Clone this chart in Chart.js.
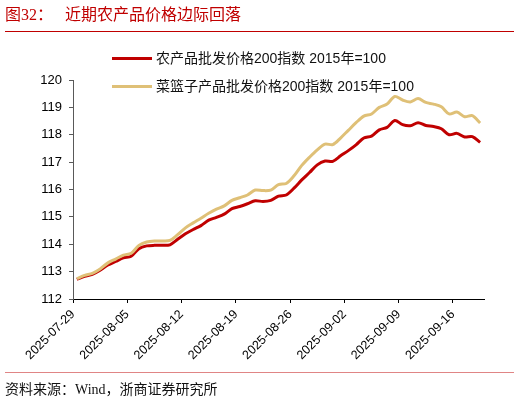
<!DOCTYPE html>
<html>
<head>
<meta charset="utf-8">
<script src="https://cdn.jsdelivr.net/npm/chart.js@4.4.1/dist/chart.umd.min.js"></script>
<style>
  html, body { margin: 0; padding: 0; background: #fff; }
  #wrap { position: relative; width: 520px; height: 403px; overflow: hidden; }
  #chart { position: absolute; left: 0; top: 0; }
  .title { position: absolute; top: 5px; height: 20px; line-height: 20px; font-size: 16px; color: #c00000;
           font-family: "Liberation Serif", "Noto Sans CJK SC", serif; white-space: nowrap; }
  .rule { position: absolute; left: 5px; width: 509px; height: 1px; }
  .legend-row { position: absolute; left: 112px; height: 20px; line-height: 20px; font-size: 14px; color: #111;
                font-family: "Liberation Sans", "Noto Sans CJK SC", sans-serif; white-space: nowrap; }
  .legend-row .swatch { position: absolute; left: 0; top: 8.5px; width: 40px; height: 3px; }
  .legend-row .label { position: absolute; left: 44px; top: 0; }
  .source { position: absolute; left: 5px; top: 380px; height: 20px; line-height: 20px; font-size: 14px; color: #111;
            font-family: "Liberation Serif", "Noto Sans CJK SC", serif; white-space: nowrap; }
</style>
</head>
<body>
<div id="wrap">
  <canvas id="chart" width="520" height="403"></canvas>
  <div class="title" style="left:5px">图32：</div>
  <div class="title" style="left:65px">近期农产品价格边际回落</div>
  <div class="rule" style="top:31px;background:#c00000"></div>
  <div class="legend-row" style="top:48px"><span class="swatch" style="background:#c00000"></span><span class="label">农产品批发价格200指数 2015年=100</span></div>
  <div class="legend-row" style="top:76px"><span class="swatch" style="background:#dfc077"></span><span class="label">菜篮子产品批发价格200指数 2015年=100</span></div>
  <div class="rule" style="top:372px;background:#e08585"></div>
  <div class="source">资料来源：Wind，浙商证券研究所</div>
</div>
<script>
// daily dates shown on the chart
const dates = [
    '2025-07-29', '2025-07-30', '2025-07-31', '2025-08-01', '2025-08-02', '2025-08-03', '2025-08-04',
    '2025-08-05', '2025-08-06', '2025-08-07', '2025-08-08', '2025-08-09', '2025-08-10', '2025-08-11',
    '2025-08-12', '2025-08-13', '2025-08-14', '2025-08-15', '2025-08-16', '2025-08-17', '2025-08-18',
    '2025-08-19', '2025-08-20', '2025-08-21', '2025-08-22', '2025-08-23', '2025-08-24', '2025-08-25',
    '2025-08-26', '2025-08-27', '2025-08-28', '2025-08-29', '2025-08-30', '2025-08-31', '2025-09-01',
    '2025-09-02', '2025-09-03', '2025-09-04', '2025-09-05', '2025-09-06', '2025-09-07', '2025-09-08',
    '2025-09-09', '2025-09-10', '2025-09-11', '2025-09-12', '2025-09-13', '2025-09-14', '2025-09-15',
    '2025-09-16', '2025-09-17', '2025-09-18', '2025-09-19'
];

// 农产品批发价格200指数
const farmIndex = [
    112.72, 112.83, 112.90, 113.05, 113.24, 113.37, 113.50,
    113.56, 113.84, 113.94, 113.96, 113.96, 113.98, 114.18,
    114.38, 114.54, 114.68, 114.88, 114.98, 115.10, 115.30,
    115.38, 115.48, 115.59, 115.56, 115.60, 115.76, 115.80,
    116.05, 116.35, 116.62, 116.90, 117.04, 117.03, 117.23,
    117.42, 117.63, 117.88, 117.95, 118.18, 118.27, 118.52,
    118.37, 118.33, 118.44, 118.34, 118.30, 118.22, 118.00,
    118.05, 117.92, 117.93, 117.72
];

// 菜篮子产品批发价格200指数
const basketIndex = [
    112.74, 112.86, 112.94, 113.10, 113.32, 113.46, 113.60,
    113.67, 113.96, 114.08, 114.12, 114.12, 114.14, 114.35,
    114.60, 114.78, 114.95, 115.13, 115.28, 115.40, 115.60,
    115.70, 115.80, 115.98, 115.96, 115.98, 116.18, 116.22,
    116.50, 116.88, 117.18, 117.45, 117.66, 117.64, 117.88,
    118.16, 118.44, 118.68, 118.76, 119.00, 119.12, 119.40,
    119.27, 119.20, 119.32, 119.18, 119.12, 119.02, 118.76,
    118.83, 118.66, 118.70, 118.43
];

const tickLabels = ['2025-07-29', '2025-08-05', '2025-08-12', '2025-08-19', '2025-08-26', '2025-09-02', '2025-09-09', '2025-09-16'];

const yMin = 112;
const yMax = 120;

// each day sits in the middle of its slot, ticks mark the slot edge
const toPoints = values => values.map((v, i) => ({ x: i + 0.5, y: v }));

const axisFont = { family: 'Liberation Sans, Arial, sans-serif', size: 13 };

new Chart(document.getElementById('chart').getContext('2d'), {
    type: 'line',
    data: {
        datasets: [
            {
                label: '农产品批发价格200指数 2015年=100',
                data: toPoints(farmIndex),
                borderColor: '#c00000',
                order: 2
            },
            {
                label: '菜篮子产品批发价格200指数 2015年=100',
                data: toPoints(basketIndex),
                borderColor: '#dfc077',
                order: 1
            }
        ]
    },
    options: {
        responsive: false,
        animation: false,
        layout: { padding: { left: 0, top: 80, right: 36, bottom: 0 } },
        plugins: {
            legend: { display: false },
            tooltip: { enabled: false }
        },
        elements: {
            point: { radius: 0 },
            line: { borderWidth: 3, tension: 0.3, fill: false }
        },
        scales: {
            x: {
                type: 'linear',
                min: 0,
                max: dates.length,
                afterBuildTicks: scale => {
                    scale.ticks = tickLabels.map(l => ({ value: dates.indexOf(l) }));
                },
                afterFit: scale => { scale.height = 104; },
                grid: { display: true, drawOnChartArea: false, drawTicks: true, tickLength: 4, color: '#000' },
                border: { display: true, color: '#000', width: 1 },
                ticks: {
                    autoSkip: false,
                    minRotation: 45,
                    maxRotation: 45,
                    padding: 4,
                    color: '#000',
                    font: { family: axisFont.family, size: 12.5 },
                    callback: value => dates[value]
                }
            },
            y: {
                min: yMin,
                max: yMax,
                afterFit: scale => { scale.width = 73; },
                grid: { display: true, drawOnChartArea: false, drawTicks: true, tickLength: 4, color: '#595959' },
                border: { display: true, color: '#595959', width: 1 },
                ticks: { stepSize: 1, padding: 7, color: '#000', font: axisFont }
            }
        }
    }
});
</script>
</body>
</html>
